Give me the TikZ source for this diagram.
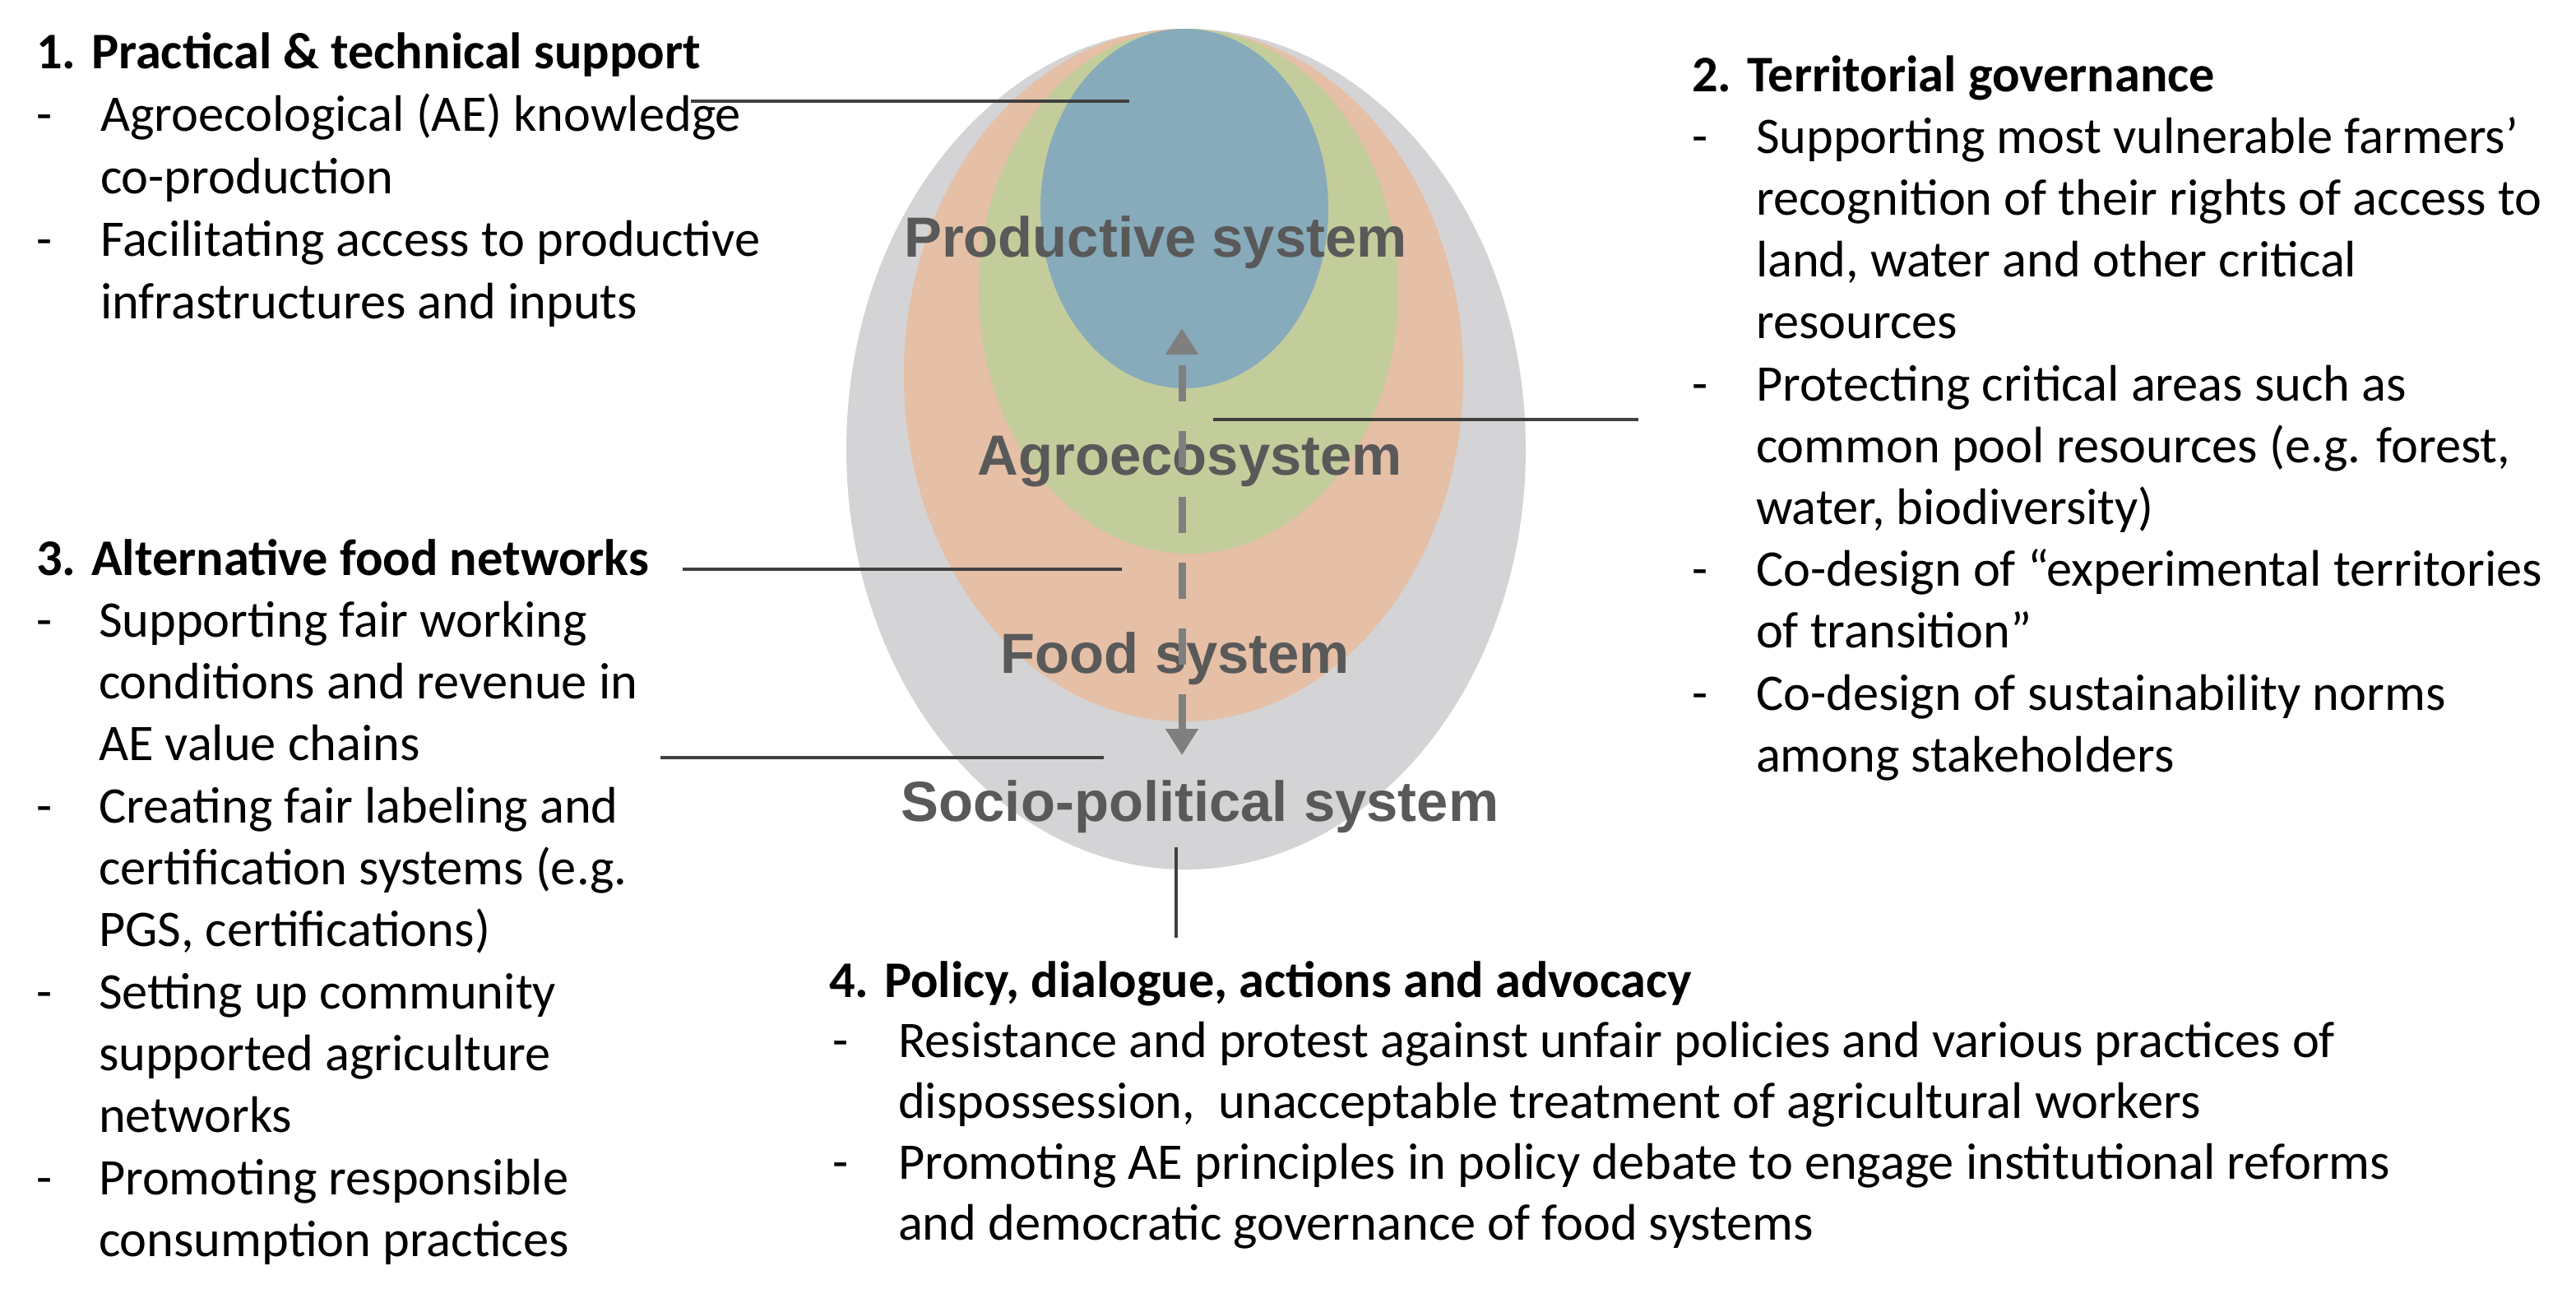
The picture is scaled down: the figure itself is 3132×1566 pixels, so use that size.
\documentclass[tikz,border=0pt]{standalone}
\usepackage{fontspec}
\setmainfont{Carlito}
\newfontfamily\arialf{Liberation Sans}
\usetikzlibrary{arrows.meta}
\definecolor{cgray}{HTML}{D4D3D5}
\definecolor{corange}{HTML}{E5BFA6}
\definecolor{cgreen}{HTML}{C3CD9B}
\definecolor{cblue}{HTML}{87ABBA}
\definecolor{clabel}{HTML}{595959}
\definecolor{cline}{HTML}{404040}
\definecolor{carrow}{HTML}{7F7F7F}
\newcommand\myline[4]{\node[txt] (#1) at (#2,#3) {#4};}
\newcommand\myitem[5]{\node[txt] (#1d) at (#2,#4) {-};\node[txt] (#1) at (#3,#4) {#5};}
\newcommand\mytitle[4]{\node[ttl] (#1) at (#2,#3) {#4};}
\begin{document}
\begin{tikzpicture}[x=0.25pt,y=-0.25pt,
  txt/.style={inner sep=0pt, outer sep=0pt, anchor=base west, font=\fontsize{15.6pt}{18pt}\selectfont},
  ttl/.style={txt, font=\fontsize{15.6pt}{18pt}\selectfont\bfseries},
  lbl/.style={inner sep=0pt, anchor=base, text=clabel, font=\arialf\bfseries\fontsize{17.2pt}{20pt}\selectfont},
  conn/.style={draw=cline, line width=1pt},
  dasharrow/.style={draw=carrow, line width=2.25pt, dash pattern=on 11pt off 9pt,
    {Triangle[width=9.5pt,length=8pt]}-{Triangle[width=9.5pt,length=8pt]}}
]
\useasboundingbox (0,0) rectangle (3132,1566);
\fill[white] (0,0) rectangle (3132,1566);
% nested systems
\fill[cgray]   (1442,546) ellipse [x radius=413, y radius=511];
\fill[corange] (1439,456) ellipse [x radius=340, y radius=421];
\fill[cgreen]  (1445,354) ellipse [x radius=255, y radius=319];
\fill[cblue]   (1440,253.5) ellipse [x radius=175, y radius=218.5];
% labels
\node[lbl] (prod) at (1405,312) {Productive system};
\node[lbl] (agro) at (1447,577) {Agroecosystem};
\node[lbl] (food) at (1429,818) {Food system};
\node[lbl] (socio) at (1459,998) {Socio-political system};
% arrow
\coordinate (arrtop) at (1437,399);
\coordinate (arrbot) at (1437,918);
\draw[dasharrow] (arrbot) -- (arrtop);
% section 1
\mytitle{s1}{44}{83}{1. Practical \& technical support}
\myitem{s1a}{44}{122}{159}{Agroecological (AE) knowledge}
\myline{s1b}{122}{235}{co-production}
\myitem{s1c}{44}{122}{311}{Facilitating access to productive}
\myline{s1e}{122}{387}{infrastructures and inputs}
% section 2
\mytitle{s2}{2057}{111}{2. Territorial governance}
\myitem{s2a}{2057}{2135}{186.2}{Supporting most vulnerable farmers’}
\myline{s2b}{2135}{261.4}{recognition of their rights of access to}
\myline{s2c}{2135}{336.6}{land, water and other critical}
\myline{s2e}{2135}{411.8}{resources}
\myitem{s2f}{2057}{2135}{487}{Protecting critical areas such as}
\myline{s2g}{2135}{562.2}{common pool resources (e.g. forest,}
\myline{s2h}{2135}{637.4}{water, biodiversity)}
\myitem{s2i}{2057}{2135}{712.6}{Co-design of “experimental territories}
\myline{s2j}{2135}{787.8}{of transition”}
\myitem{s2k}{2057}{2135}{863}{Co-design of sustainability norms}
\myline{s2l}{2135}{938.2}{among stakeholders}
% section 3
\mytitle{s3}{44}{699}{3. Alternative food networks}
\myitem{s3a}{44}{120}{774.3}{Supporting fair working}
\myline{s3b}{120}{849.6}{conditions and revenue in}
\myline{s3c}{120}{924.9}{AE value chains}
\myitem{s3e}{44}{120}{1000.2}{Creating fair labeling and}
\myline{s3f}{120}{1075.5}{certification systems (e.g.}
\myline{s3g}{120}{1150.8}{PGS, certifications)}
\myitem{s3h}{44}{120}{1226.1}{Setting up community}
\myline{s3i}{120}{1301.4}{supported agriculture}
\myline{s3j}{120}{1376.7}{networks}
\myitem{s3k}{44}{120}{1452}{Promoting responsible}
\myline{s3l}{120}{1527.3}{consumption practices}
% section 4
\mytitle{s4}{1008}{1212}{4. Policy, dialogue, actions and advocacy}
\myitem{s4a}{1012}{1092}{1285.75}{Resistance and protest against unfair policies and various practices of}
\myline{s4b}{1092}{1359.5}{dispossession,\ \ unacceptable treatment of agricultural workers}
\myitem{s4c}{1012}{1092}{1433.25}{Promoting AE principles in policy debate to engage institutional reforms}
\myline{s4e}{1092}{1507}{and democratic governance of food systems}
% connectors
\coordinate (c1a) at (840,123);   \coordinate (c1b) at (1373,123);
\coordinate (c2a) at (1475,510);  \coordinate (c2b) at (1992,510);
\coordinate (c3a) at (830,692);   \coordinate (c3b) at (1364,692);
\coordinate (c4a) at (803,921);   \coordinate (c4b) at (1342,921);
\coordinate (c5a) at (1430,1030); \coordinate (c5b) at (1430,1140);
\draw[conn] (c1a) -- (c1b);
\draw[conn] (c2a) -- (c2b);
\draw[conn] (c3a) -- (c3b);
\draw[conn] (c4a) -- (c4b);
\draw[conn] (c5a) -- (c5b);
\end{tikzpicture}
\end{document}
